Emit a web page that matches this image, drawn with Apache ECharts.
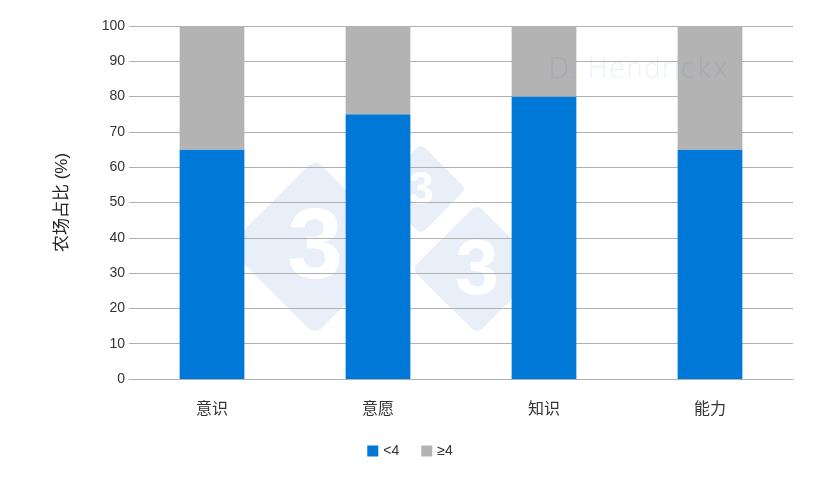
<!DOCTYPE html>
<html><head><meta charset="utf-8">
<script src="https://cdn.jsdelivr.net/npm/echarts@6/dist/echarts.min.js"></script>
<style>html,body{margin:0;padding:0;background:#fff}#c{width:820px;height:487px}</style>
</head><body><div id="c"></div>
<script>
const categories = ['意识', '意愿', '知识', '能力'];
const seriesNames = ['<4', '≥4'];
const lessThan4 = [65, 75, 80, 65];
const atLeast4 = [35, 25, 20, 35];
const yTicks = [0, 10, 20, 30, 40, 50, 60, 70, 80, 90, 100];

const FONT = '"Liberation Sans", Arial, "Noto Sans CJK SC", sans-serif';
const WM = '#e9eff8';
function diamond(cx, cy, half, txt, fs, ty) {
  const s = half * Math.SQRT2;
  return [
    { type: 'rect', x: cx, y: cy, rotation: Math.PI / 4, originX: 0, originY: 0,
      shape: { x: -s / 2, y: -s / 2, width: s, height: s, r: s * 0.08 },
      style: { fill: WM }, z: -10, silent: true },
    { type: 'text', x: cx, y: cy + ty, z: -9, silent: true,
      style: { text: txt, fill: '#fff',
        font: 'bold ' + fs + 'px "Liberation Sans", Arial', textAlign: 'center', textVerticalAlign: 'middle' } }
  ];
}

const chart = echarts.init(document.getElementById('c'), null, { renderer: 'canvas' });
chart.setOption({
  backgroundColor: '#fff',
  animation: false,
  textStyle: { fontFamily: FONT },
  graphic: [].concat(
    diamond(315, 247, 88, '3', 100, 3),
    diamond(421, 189, 45, '3', 46, 2),
    diamond(477, 269, 65, '3', 78, 3),
    [{ type: 'text', left: 548, top: 57, zlevel: 5, z: 1, silent: true,
       style: { text: 'D. Hendrickx', fill: 'rgba(0,80,180,0.08)', font: '200 28px "DejaVu Sans", sans-serif' } }]
  ),
  grid: { left: 129, right: 27, top: 26, bottom: 108, containLabel: false },
  legend: {
    bottom: 24, left: 'center', itemWidth: 11, itemHeight: 11, itemGap: 22,
    icon: 'rect',
    textStyle: { fontSize: 14, color: '#333', fontFamily: FONT },
    data: seriesNames
  },
  xAxis: {
    type: 'category', data: categories,
    axisTick: { show: false },
    axisLine: { lineStyle: { color: '#b0b0b0' } },
    axisLabel: { fontSize: 16, color: '#333', margin: 23, fontFamily: FONT }
  },
  yAxis: {
    type: 'value', min: yTicks[0], max: yTicks[yTicks.length - 1], interval: 10,
    name: '农场占比 (%)', nameLocation: 'middle', nameGap: 58, nameRotate: 90,
    nameTextStyle: { fontSize: 17, color: '#222', fontFamily: FONT },
    axisLine: { show: false }, axisTick: { show: false },
    axisLabel: { fontSize: 14, color: '#333', margin: 4, fontFamily: FONT },
    splitLine: { lineStyle: { color: '#b0b0b0', width: 1 } }
  },
  series: [
    { name: seriesNames[0], type: 'bar', stack: 's', data: lessThan4, barWidth: '39%',
      itemStyle: { color: '#0078d7' } },
    { name: seriesNames[1], type: 'bar', stack: 's', data: atLeast4, barWidth: '39%',
      itemStyle: { color: '#b3b3b3' } }
  ]
});
</script></body></html>
